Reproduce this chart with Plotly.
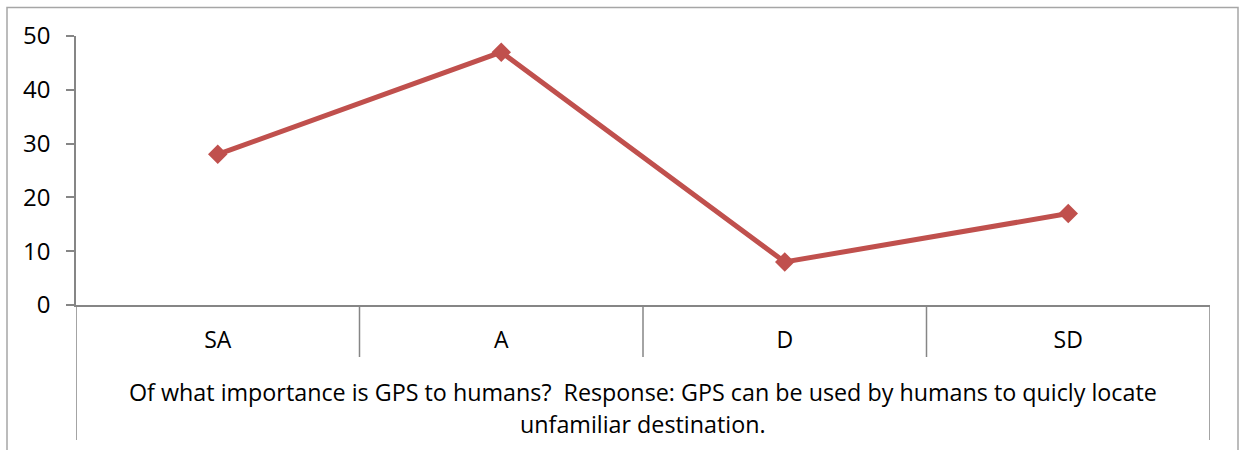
import plotly.graph_objects as go

# Survey responses: share of respondents per agreement level
categories = ["SA", "A", "D", "SD"]
responses = [28, 47, 8, 17]
y_ticks = [0, 10, 20, 30, 40, 50]
caption_line1 = "Of what importance is GPS to humans?  Response: GPS can be used by humans to quicly locate"
caption_line2 = "unfamiliar destination."

W, H = 1239, 450
M_L, M_R, M_T, M_B = 76, 29, 36, 145
plot_w = W - M_L - M_R
plot_h = H - M_T - M_B

AXIS = "#868686"
FONT = "Open Sans"
FS = 23


def px_x(px):
    return (px - M_L) / plot_w


def px_y(py):
    return (H - M_B - py) / plot_h


fig = go.Figure()
fig.add_trace(go.Scatter(
    x=categories, y=responses, mode="lines+markers",
    line=dict(color="#C0504D", width=5),
    marker=dict(symbol="diamond", size=15, color="#C0504D"),
    showlegend=False, cliponaxis=False,
))

shapes = []
# category separators below the horizontal axis
for i in range(1, len(categories)):
    shapes.append(dict(type="line", xref="x", yref="paper",
                       x0=i - 0.5, x1=i - 0.5, y0=0, y1=px_y(357),
                       line=dict(color=AXIS, width=1.5)))
# outer edges of the category axis block
for xv in (-0.5, len(categories) - 0.5):
    shapes.append(dict(type="line", xref="x", yref="paper",
                       x0=xv, x1=xv, y0=0, y1=px_y(440),
                       line=dict(color=AXIS, width=1.5)))
# chart frame
shapes.append(dict(type="rect", xref="paper", yref="paper",
                   x0=px_x(7), x1=px_x(1238), y0=px_y(470), y1=px_y(7.5),
                   line=dict(color="#A6A6A6", width=1.5), layer="below"))

annotations = [
    dict(text=caption_line1, xref="paper", yref="paper", x=0.5, y=px_y(392),
         showarrow=False, xanchor="center", yanchor="middle",
         font=dict(family=FONT, size=23.3, color="black")),
    dict(text=caption_line2, xref="paper", yref="paper", x=0.5, y=px_y(424),
         showarrow=False, xanchor="center", yanchor="middle",
         font=dict(family=FONT, size=23.3, color="black")),
]

fig.update_layout(
    width=W, height=H,
    margin=dict(l=M_L, r=M_R, t=M_T, b=M_B),
    paper_bgcolor="white", plot_bgcolor="white",
    font=dict(family=FONT, size=FS, color="black"),
    shapes=shapes, annotations=annotations,
    xaxis=dict(type="category", range=[-0.5, len(categories) - 0.5],
               showgrid=False, zeroline=False, showline=True,
               linecolor=AXIS, linewidth=1.5, ticks="",
               ticklabelstandoff=14, fixedrange=True),
    yaxis=dict(range=[0, 50], tickvals=y_ticks, showgrid=False, zeroline=False,
               showline=True, linecolor=AXIS, linewidth=1.5,
               ticks="outside", ticklen=8, tickcolor=AXIS, tickwidth=1.5,
               ticklabelstandoff=11, tickfont=dict(size=24), fixedrange=True),
)

fig.write_html("out.html")
